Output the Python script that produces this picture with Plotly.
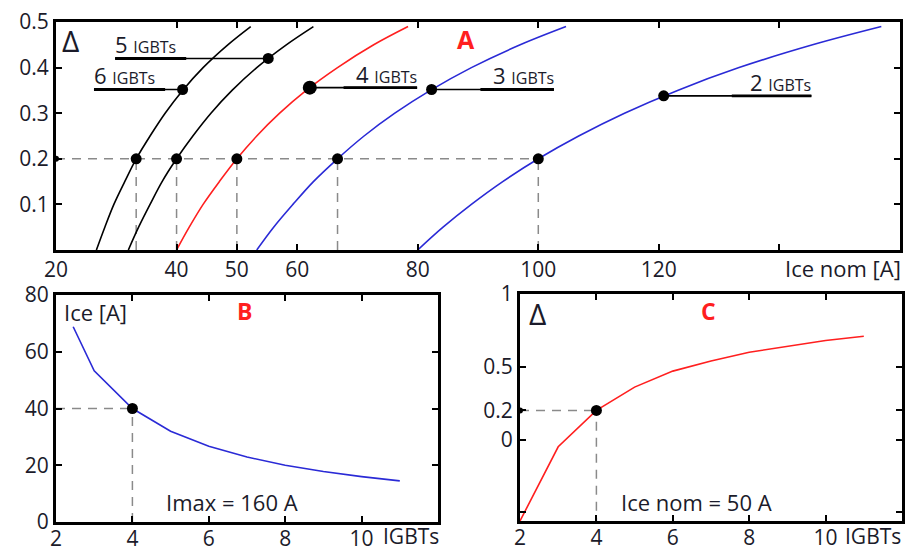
import plotly.graph_objects as go

FONT = "Open Sans"
TXT = "#1b1b2a"
BLUE = "#2a2ad6"
RED = "#ff1f1f"
GRAY = "#8a8a8a"
DASH = "9px,7px"

# ---------------- Panel A : delta vs Ice nom, one curve per IGBT count ----------------
delta_levels = [0.0, 0.05, 0.10, 0.15, 0.20, 0.25, 0.30, 0.35, 0.40, 0.45, 0.49]
ice_6 = [26.7, 28.1, 29.6, 31.4, 33.3, 35.6, 38.1, 41.0, 44.4, 48.5, 52.3]
ice_5 = [32.0, 33.7, 35.6, 37.6, 40.0, 42.7, 45.7, 49.2, 53.3, 58.2, 62.7]
ice_4 = [40.0, 42.1, 44.4, 47.1, 50.0, 53.3, 57.1, 61.5, 66.7, 72.7, 78.4]
ice_3 = [53.3, 56.1, 59.3, 62.7, 66.7, 71.1, 76.2, 82.1, 88.9, 97.0, 104.6]
ice_2 = [80.0, 84.2, 88.9, 94.1, 100.0, 106.7, 114.3, 123.1, 133.3, 145.5, 156.9]
curve_colors = ["black", "black", RED, BLUE, BLUE]

op_delta = 0.2
op_ice = [33.3, 40.0, 50.0, 66.7, 100.0]

label_names = ["6", "5", "4", "3", "2"]
label_dot_x = [41.0, 55.2, 62.1, 82.3, 120.8]
label_dot_y = [0.352, 0.420, 0.356, 0.352, 0.338]
label_dot_size = [11, 11, 14, 11, 11]
label_end_x = [26.3, 29.8, 79.9, 102.6, 145.3]
label_text_w = [11.8, 11.8, 12.2, 12.2, 13.2]

xa_ticks = [20, 40, 50, 60, 80, 100, 120, 140]
xa_text = ["20", "40", "50", "60", "80", "100", "120", ""]
ya_ticks = [0.1, 0.2, 0.3, 0.4, 0.5]

# ---------------- Panel B : Ice vs number of IGBTs ----------------
n_b = [2.45, 3, 4, 5, 6, 7, 8, 9, 10, 11]
ice_b = [68.8, 53.3, 40.0, 32.0, 26.7, 22.9, 20.0, 17.8, 16.0, 14.5]
op_b = (4, 40)

# ---------------- Panel C : delta vs number of IGBTs ----------------
n_c = [2, 3, 4, 5, 6, 7, 8, 9, 10, 11]
delta_c = [-0.56, -0.05, 0.20, 0.36, 0.47, 0.54, 0.60, 0.64, 0.68, 0.71]
op_c = (4, 0.2)

n_ticks = [2, 4, 6, 8, 10]
yb_ticks = [0, 20, 40, 60, 80]
yc_ticks = [-0.5, 0, 0.2, 0.5, 1]
yc_text = ["", "0", "0.2", "0.5", "1"]

fig = go.Figure()

def line(x, y, color, width=1.6, dash=None, xa="x", ya="y", shape="linear"):
    fig.add_trace(go.Scatter(x=x, y=y, mode="lines", xaxis=xa, yaxis=ya,
                             line=dict(color=color, width=width, dash=dash, shape=shape),
                             hoverinfo="skip", showlegend=False))

def dots(x, y, size=11, xa="x", ya="y", clip=True):
    fig.add_trace(go.Scatter(x=x, y=y, mode="markers", xaxis=xa, yaxis=ya,
                             marker=dict(color="black", size=size, opacity=1,
                                         line=dict(width=0)),
                             cliponaxis=clip, hoverinfo="skip", showlegend=False))

# Panel A guides
line([20, op_ice[-1]], [op_delta, op_delta], GRAY, 1.5, DASH)
for xv in op_ice:
    line([xv, xv], [0, op_delta], GRAY, 1.5, DASH)
# Panel A curves
for ice, col in zip([ice_6, ice_5, ice_4, ice_3, ice_2], curve_colors):
    line(ice, delta_levels, col, 1.6, shape="spline")
# leaders
for name, dx, dy, ex, tw in zip(label_names, label_dot_x, label_dot_y, label_end_x, label_text_w):
    line([dx, ex], [dy, dy], "black", 1.6)
    sgn = 1 if ex < dx else -1
    line([ex, ex + sgn * tw], [dy, dy], "black", 2.8)
    fig.add_annotation(x=ex, y=dy, xref="x", yref="y", showarrow=False,
                       xanchor="left" if sgn > 0 else "right", yanchor="bottom", yshift=-3,
                       xshift=-2 * sgn,
                       text=f"{name} <span style='font-size:16px'>IGBTs</span>",
                       font=dict(family=FONT, size=22, color=TXT))
dots(op_ice, [op_delta] * len(op_ice))
dots(label_dot_x, label_dot_y, size=label_dot_size)
dots([20], [op_delta], size=6, clip=False)

# Panel B
line([n_ticks[0], op_b[0]], [op_b[1], op_b[1]], GRAY, 1.5, DASH, "x2", "y2")
line([op_b[0], op_b[0]], [0, op_b[1]], GRAY, 1.5, DASH, "x2", "y2")
line(n_b, ice_b, BLUE, 1.6, xa="x2", ya="y2")
dots([op_b[0]], [op_b[1]], xa="x2", ya="y2")

# Panel C
line([n_ticks[0], op_c[0]], [op_c[1], op_c[1]], GRAY, 1.5, DASH, "x3", "y3")
line([op_c[0], op_c[0]], [-0.6, op_c[1]], GRAY, 1.5, DASH, "x3", "y3")
line(n_c, delta_c, RED, 1.6, xa="x3", ya="y3")
dots([op_c[0]], [op_c[1]], xa="x3", ya="y3")
dots([n_ticks[0]], [op_c[1]], size=6, xa="x3", ya="y3", clip=False)

tickfont = dict(family=FONT, size=21, color=TXT)
common = dict(showline=True, linewidth=3, linecolor="black", mirror="ticks",
              ticks="inside", ticklen=6, tickwidth=1.5, tickcolor="black",
              showgrid=False, zeroline=False, tickfont=tickfont, fixedrange=True,
              automargin=False)

W, H = 912, 551
def dom(a, b, tot, flip=False):
    return [1 - b / tot, 1 - a / tot] if flip else [a / tot, b / tot]

fig.update_layout(
    width=W, height=H, margin=dict(l=0, r=0, t=0, b=0, autoexpand=False),
    paper_bgcolor="white", plot_bgcolor="white", showlegend=False,
    font=dict(family=FONT, color=TXT),
    xaxis=dict(domain=dom(56, 900, W), range=[20, 160], tickvals=xa_ticks, ticktext=xa_text,
               anchor="y", ticklabelstandoff=-1, **common),
    yaxis=dict(domain=dom(22, 250, H, True), range=[0, 0.5], tickvals=ya_ticks,
               anchor="x", ticklabelstandoff=0, **common),
    xaxis2=dict(domain=dom(56, 438, W), range=[2, 12], tickvals=n_ticks, anchor="y2",
                ticklabelstandoff=-4, **common),
    yaxis2=dict(domain=dom(295, 522, H, True), range=[0, 80], tickvals=yb_ticks, anchor="x2",
                ticklabelstandoff=0, **common),
    xaxis3=dict(domain=dom(520, 902, W), range=[2, 12], tickvals=n_ticks, anchor="y3",
                ticklabelstandoff=-4, **common),
    yaxis3=dict(domain=dom(294, 521, H, True), range=[-0.56, 1.0], tickvals=yc_ticks,
                ticktext=yc_text, anchor="x3", ticklabelstandoff=0, **common),
)

def ann(text, x, y, size=22, color=TXT, xanchor="left", bold=False):
    t = f"<b>{text}</b>" if bold else text
    fig.add_annotation(text=t, x=x / W, y=1 - y / H, xref="paper", yref="paper",
                       showarrow=False, xanchor=xanchor, yanchor="middle",
                       font=dict(family=FONT, size=size, color=color))

ann("Δ", 60, 40, size=30)
ann("A", 466, 39, size=25, color=RED, xanchor="center", bold=True)
ann("Ice nom [A]", 903, 268, xanchor="right")
ann("Ice [A]", 62, 312)
ann("B", 245, 311, size=23, color=RED, xanchor="center", bold=True)
ann("Imax = 160 A", 164, 502)
ann("IGBTs", 381, 536, size=21)
ann("Δ", 527, 313, size=30)
ann("C", 708, 311, size=23, color=RED, xanchor="center", bold=True)
ann("Ice nom = 50 A", 619, 502)
ann("IGBTs", 843, 536, size=21)

fig.write_html("out.html")
